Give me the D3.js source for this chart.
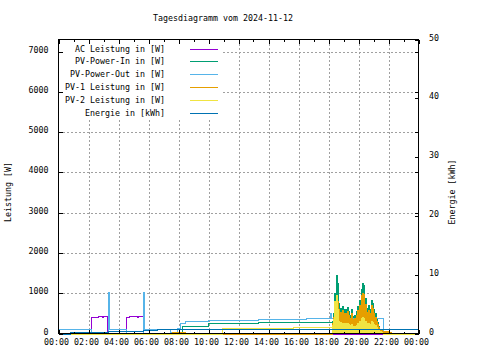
<!DOCTYPE html>
<html><head><meta charset="utf-8">
<script src="https://cdn.jsdelivr.net/npm/d3@7"></script>
<style>
body{margin:0;background:#fff}
svg{display:block}
text{font-family:"DejaVu Sans Mono",monospace;font-size:8.3px;fill:#000}
</style>
</head><body><svg id="c" width="480" height="360"></svg>
<script>
const title = "Tagesdiagramm vom 2024-11-12";
const yTitle = "Leistung [W]";
const y2Title = "Energie [kWh]";
const xTickHours = [0,2,4,6,8,10,12,14,16,18,20,22,24];
const xTickLabels = ["00:00","02:00","04:00","06:00","08:00","10:00","12:00","14:00","16:00","18:00","20:00","22:00","00:00"];
const yTicks = [0,1000,2000,3000,4000,5000,6000,7000];
const y2Ticks = [0,10,20,30,40,50];
const legendLabels = ["AC Leistung in [W]","PV-Power-In in [W]","PV-Power-Out in [W]","PV-1 Leistung in [W]","PV-2 Leistung in [W]","Energie in [kWh]"];
const seriesColors = ["#9400d3","#009e73","#56b4e9","#e69f00","#f0e442","#0072b2"];

// AC Leistung (step data)
const acTimes  = ["00:00","02:11","02:39","02:57","03:00","03:15","04:31","04:43","05:17","05:20","05:38"];
const acValues = [0,400,430,405,430,0,400,430,405,430,0];
// PV-Power-Out
const outTimes  = ["00:00","02:11","03:18","03:22","04:31","05:38","05:42","07:26","07:57","08:06","08:26","09:59","13:19","16:30","18:06","18:11","21:40"];
const outValues = [100,0,1020,100,0,1020,100,30,130,250,310,335,360,390,510,390,0];
// daytime parts of PV-Power-In, PV-1, PV-2
const inDayTimes  = ["00:00","08:17","09:59","13:19"];
const inDayValues = [0,186,253,293];
const pv1DayTimes  = ["00:00","07:34","08:26"];
const pv1DayValues = [0,30,0];
const pv2DayTimes  = ["00:00","10:57","15:39"];
const pv2DayValues = [0,130,160];
// evening samples
const eveTimes = ["18:15","18:20","18:25","18:30","18:35","18:40","18:45","18:50","18:55",
  "19:00","19:05","19:10","19:15","19:20","19:25","19:30","19:35","19:40","19:45","19:50","19:55",
  "20:00","20:05","20:10","20:15","20:20","20:25","20:30","20:35","20:40","20:45","20:50","20:55",
  "21:00","21:05","21:10","21:15","21:20","21:25","21:30","21:35","21:40","21:45","21:50","21:55",
  "22:00","22:05","22:10"];
const inEve  = [300,520,1000,1450,1250,760,640,560,690,
  500,610,520,660,560,470,600,430,380,460,560,680,
  640,820,1100,1250,1200,880,640,580,700,620,830,760,
  600,500,360,290,190,120,70,30,0,0,0,0,
  0,0,0];
const pv1Eve = [250,420,700,850,800,620,540,460,580,
  420,510,440,560,470,390,510,350,310,380,470,580,
  540,700,950,1000,980,740,540,480,590,520,700,640,
  500,410,300,240,160,110,80,70,60,60,50,50,
  40,40,0];
const pv2Eve = [200,350,800,950,600,300,280,230,270,
  220,250,220,260,230,200,240,190,170,190,220,260,
  250,300,380,400,390,320,250,230,270,240,300,280,
  230,200,150,120,80,50,30,20,0,0,0,0,
  0,0,0];
// Energie (kWh)
const enTimes  = ["00:00","00:46","03:20","05:38","06:34"];
const enValues = [0,0.2,0.35,0.6,0.75];

const hr = s => { const [a,b] = s.split(":"); return +a + (+b)/60; };
const pts = (ts, vs) => ts.map((t,i) => [hr(t), vs[i]]);

const svg = d3.select("#c");
const L = 58.5, R = 418.5, T = 39.5, B = 333.5;
const x = d3.scaleLinear().domain([0,24]).range([L,R]);
const y = d3.scaleLinear().domain([0,7300]).range([B,T]);
const y2 = d3.scaleLinear().domain([0,50]).range([B,T]);

// grid
const g = svg.append("g").attr("stroke","#a0a0a0").attr("stroke-dasharray","2,2").attr("shape-rendering","crispEdges");
yTicks.filter(v => v > 0).forEach(v => g.append("line").attr("x1",L).attr("x2",R).attr("y1",Math.round(y(v))+0.5).attr("y2",Math.round(y(v))+0.5));
xTickHours.filter(h => h > 0 && h < 24).forEach(h => g.append("line").attr("x1",Math.round(x(h))+0.5).attr("x2",Math.round(x(h))+0.5).attr("y1",T).attr("y2",B));

// legend background (opaque key)
svg.append("rect").attr("x",L+0.5).attr("y",T+0.5).attr("width",222-L).attr("height",119-T).attr("fill","#fff");

const line = (sc) => d3.line().x(d => x(d[0])).y(d => Math.round(sc(d[1]))+0.5).curve(d3.curveStepAfter);
const area = d3.area().x(d => x(d[0])).y0(B).y1(d => Math.round(y(d[1]))+0.5).curve(d3.curveStepAfter);

function full(dayT, dayV, eveV) {
  const p = pts(dayT, dayV);
  if (eveV) pts(eveTimes, eveV).forEach(q => p.push(q));
  p.push([24, p[p.length-1][1]]);
  return p;
}
const plot = svg.append("g").attr("fill","none").attr("stroke-width",1).attr("shape-rendering","crispEdges");
function drawLine(data, color, sc) {
  plot.append("path").datum(data).attr("d", line(sc)).attr("stroke", color);
}
function drawArea(eveV, color) {
  plot.append("path").datum(pts(eveTimes, eveV)).attr("d", area).attr("fill", color).attr("stroke","none");
}
drawLine(full(acTimes, acValues), seriesColors[0], y);
drawArea(inEve, seriesColors[1]);
drawLine(full(inDayTimes, inDayValues, inEve), seriesColors[1], y);
drawLine(full(outTimes, outValues), seriesColors[2], y);
drawArea(pv1Eve, seriesColors[3]);
drawLine(full(pv1DayTimes, pv1DayValues, pv1Eve), seriesColors[3], y);
drawArea(pv2Eve, seriesColors[4]);
drawLine(full(pv2DayTimes, pv2DayValues, pv2Eve), seriesColors[4], y);
drawLine(full(enTimes, enValues), seriesColors[5], y2);

// border and ticks
const ax = svg.append("g").attr("stroke","#000").attr("shape-rendering","crispEdges");
ax.append("rect").attr("x",L).attr("y",T).attr("width",R-L).attr("height",B-T).attr("fill","none");
yTicks.forEach(v => {
  const yy = Math.round(y(v))+0.5;
  ax.append("line").attr("x1",L).attr("x2",L+4).attr("y1",yy).attr("y2",yy);
  ax.append("line").attr("x1",R-4).attr("x2",R).attr("y1",yy).attr("y2",yy);
});
y2Ticks.forEach(v => {
  const yy = Math.round(y2(v))+0.5;
  ax.append("line").attr("x1",R-4).attr("x2",R).attr("y1",yy).attr("y2",yy);
});
d3.range(0,25).forEach(h => {
  const xx = Math.round(x(h))+0.5;
  const len = h % 2 === 0 ? 4 : 2;
  ax.append("line").attr("x1",xx).attr("x2",xx).attr("y1",B).attr("y2",B-len);
  ax.append("line").attr("x1",xx).attr("x2",xx).attr("y1",T).attr("y2",T+len);
});

// tick labels
const lab = svg.append("g");
yTicks.forEach(v => lab.append("text").attr("x",48.5).attr("y",y(v)+1).attr("text-anchor","end").text(d3.format("d")(v)));
y2Ticks.forEach(v => lab.append("text").attr("x",429).attr("y",y2(v)+1).text(v));
xTickHours.forEach((h,i) => lab.append("text").attr("x",x(h)-2).attr("y",345).attr("text-anchor","middle").text(xTickLabels[i]));

// titles
svg.append("text").attr("x",223).attr("y",21).attr("text-anchor","middle").text(title);
svg.append("text").attr("transform","translate(11,192) rotate(-90)").attr("text-anchor","middle").text(yTitle);
svg.append("text").attr("transform","translate(455,192) rotate(-90)").attr("text-anchor","middle").text(y2Title);

// legend
legendLabels.forEach((s,i) => {
  const yy = 48.5 + i*12.8;
  svg.append("text").attr("x",165).attr("y",yy+3).attr("text-anchor","end").text(s);
  svg.append("line").attr("x1",190).attr("x2",218).attr("y1",Math.round(yy)+0.5).attr("y2",Math.round(yy)+0.5)
    .attr("stroke",seriesColors[i]).attr("stroke-width",1.3).attr("shape-rendering","crispEdges");
});
</script>
</body></html>
